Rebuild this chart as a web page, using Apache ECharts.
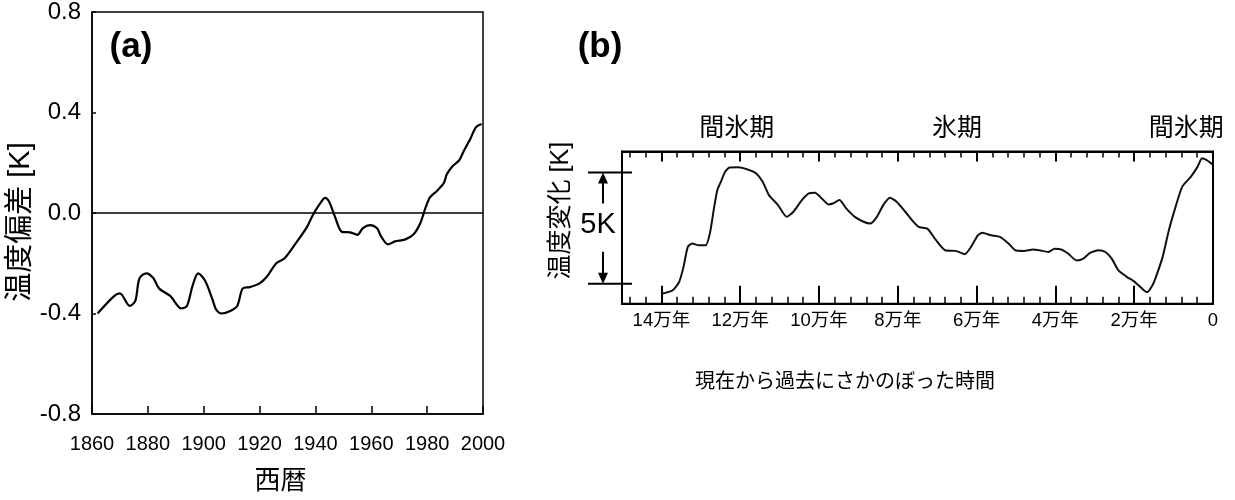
<!DOCTYPE html>
<html><head><meta charset="utf-8">
<script src="https://cdn.jsdelivr.net/npm/echarts@6/dist/echarts.min.js"></script>
<style>html,body{margin:0;padding:0;background:#fff}#c{width:1235px;height:500px}</style>
</head><body><div id="c"></div>
<script>
// Panel (a): global temperature anomaly
const yearsA = [1862,1868,1870,1873.5,1875.5,1877,1879.5,1882,1884,1888,1892,1894,1896,1898,1900.5,1903,1904.5,1906.5,1909.5,1912,1914,1916.5,1920,1922.5,1926,1929,1933,1937,1939,1941.5,1943.5,1945,1947,1949.5,1952.5,1955,1957,1959.5,1962,1963.5,1966,1968.5,1972,1975,1977.5,1979.5,1981,1983.5,1986,1987,1989,1991.5,1993,1995.5,1997.5,1999.5];
const anomA = [-0.40,-0.33,-0.32,-0.37,-0.35,-0.26,-0.24,-0.26,-0.30,-0.33,-0.38,-0.37,-0.29,-0.24,-0.27,-0.34,-0.385,-0.40,-0.39,-0.37,-0.30,-0.295,-0.28,-0.255,-0.20,-0.18,-0.12,-0.055,-0.01,0.035,0.06,0.043,-0.015,-0.075,-0.077,-0.087,-0.06,-0.048,-0.06,-0.093,-0.125,-0.113,-0.106,-0.087,-0.042,0.023,0.062,0.088,0.12,0.153,0.185,0.21,0.244,0.296,0.342,0.354];
// Panel (b): temperature change, time before present in 万年
const agoB = [14.0,13.72,13.55,13.44,13.33,13.22,13.05,12.88,12.77,12.66,12.58,12.49,12.38,12.27,12.05,11.83,11.6,11.43,11.27,11.04,10.82,10.65,10.43,10.26,10.1,9.93,9.76,9.65,9.48,9.31,9.09,8.87,8.7,8.53,8.37,8.2,8.03,7.81,7.64,7.47,7.25,7.03,6.8,6.53,6.3,6.14,5.97,5.86,5.63,5.41,5.19,5.02,4.8,4.57,4.41,4.18,4.02,3.85,3.68,3.46,3.29,3.12,2.9,2.73,2.57,2.4,2.18,2.01,1.84,1.67,1.54,1.45,1.28,1.12,0.95,0.78,0.56,0.39,0.28,0.17,0.0];
const tempB = [-0.45,-0.30,0.08,0.75,1.66,1.81,1.73,1.73,2.26,3.46,4.22,4.59,5.05,5.23,5.24,5.15,4.97,4.59,3.99,3.54,3.01,3.24,3.77,4.07,4.10,3.84,3.57,3.61,3.77,3.39,3.01,2.79,2.71,3.01,3.54,3.87,3.69,3.24,2.86,2.56,2.48,1.96,1.51,1.48,1.33,1.66,2.18,2.29,2.18,2.11,1.81,1.51,1.48,1.54,1.51,1.43,1.58,1.54,1.36,1.05,1.13,1.39,1.51,1.43,1.13,0.60,0.30,0.12,-0.15,-0.38,-0.08,0.30,1.20,2.41,3.46,4.37,4.82,5.27,5.65,5.57,5.35];
const periodLabels = ['間氷期','氷期','間氷期'];
const periodAt = [12.09, 6.5, 0.68];
const scaleBar = [0, 5];
const scaleLabel = '5K';
const panelLabels = ['(a)','(b)'];

const FONT = '"Liberation Sans", "Noto Sans CJK JP", sans-serif';
const chart = echarts.init(document.getElementById('c'), null, {renderer:'canvas'});

function bAxis(pos, interval, len, lineShow, labelShow, extra){
  return Object.assign({gridIndex:1, type:'value', min:0, max:15, interval:interval, inverse:true, position:pos,
     axisLine:{show:lineShow, onZero:false, lineStyle:{color:'#000', width:2}},
     axisTick:{show:true, inside:true, length:len, lineStyle:{color:'#000', width:len>8?2:1.5}},
     axisLabel:{show:labelShow}, splitLine:{show:false}}, extra || {});
}

chart.setOption({
  animation:false,
  textStyle:{fontFamily:FONT, color:'#000'},
  grid:[
    {left:92, top:11, width:391, height:411, show:true, borderColor:'#000', borderWidth:1.5},
    {left:622, top:151.5, width:591, height:152.3, show:true, borderColor:'#000', borderWidth:2}
  ],
  xAxis:[
    {gridIndex:0, type:'value', min:1860, max:2000, interval:20,
     axisLine:{show:true, onZero:false, lineStyle:{color:'#000', width:1.5}},
     axisTick:{show:true, inside:true, length:8, lineStyle:{color:'#000', width:1.5}},
     axisLabel:{fontSize:20, color:'#000', margin:20, fontFamily:FONT, formatter:v => String(v)},
     splitLine:{show:false},
     name:'西暦', nameLocation:'middle', nameGap:55,
     nameTextStyle:{fontSize:26, color:'#000', fontFamily:FONT, padding:[0,14,0,0]}},
    bAxis('bottom', 2, 18, true, true, {
     axisLabel:{show:true, fontSize:18.5, color:'#000', margin:8, fontFamily:FONT,
       formatter:v => v > 14.5 ? '' : (v === 0 ? '0' : v + '万年')},
     name:'現在から過去にさかのぼった時間', nameLocation:'middle', nameGap:69,
     nameTextStyle:{fontSize:20, color:'#000', fontFamily:FONT, padding:[0,145,0,0]}}),
    bAxis('bottom', 0.4, 7, false, false),
    bAxis('top', 2, 10, true, false),
    bAxis('top', 0.4, 6, false, false)
  ],
  yAxis:[
    {gridIndex:0, type:'value', min:-0.8, max:0.8, interval:0.4,
     axisLine:{show:true, onZero:false, lineStyle:{color:'#000', width:1.5}},
     axisTick:{show:true, inside:true, length:4, lineStyle:{color:'#000', width:1.5}},
     axisLabel:{fontSize:24, color:'#000', margin:11, fontFamily:FONT, formatter:v => v.toFixed(1)},
     splitLine:{show:false},
     name:'温度偏差 [K]', nameLocation:'middle', nameGap:52,
     nameTextStyle:{fontSize:29, color:'#000', fontFamily:FONT, padding:[0,18,0,0]}},
    {gridIndex:1, type:'value', min:-0.9, max:5.95,
     axisLine:{show:true, onZero:false, lineStyle:{color:'#000', width:2}},
     axisTick:{show:false}, axisLabel:{show:false}, splitLine:{show:false},
     name:'温度変化 [K]', nameLocation:'middle', nameGap:48,
     nameTextStyle:{fontSize:25, color:'#000', fontFamily:FONT, padding:[0,0,0,34]}}
  ],
  series:[
    {type:'line', xAxisIndex:0, yAxisIndex:0, showSymbol:false, smooth:0.3,
     data: yearsA.map((y,i)=>[y, anomA[i]]),
     lineStyle:{color:'#000', width:2.2},
     markLine:{silent:true, symbol:'none', label:{show:false},
       lineStyle:{color:'#000', width:1.5, type:'solid'}, data:[{yAxis:0}]}},
    {type:'line', xAxisIndex:1, yAxisIndex:1, showSymbol:false, smooth:0.2,
     data: agoB.map((t,i)=>[t, tempB[i]]),
     lineStyle:{color:'#111', width:2}}
  ]
});

const yHi = chart.convertToPixel({yAxisIndex:1}, scaleBar[1]);
const yLo = chart.convertToPixel({yAxisIndex:1}, scaleBar[0]);
const gl = chart.convertToPixel({xAxisIndex:1}, 15);
const ax = gl - 19;
const stroke = {stroke:'#000', lineWidth:2};
const center = {align:'center', verticalAlign:'middle', textAlign:'center', textVerticalAlign:'middle', fill:'#000'};
const g = [
  {type:'text', style:Object.assign({text:panelLabels[0], x:131, y:47, font:'bold 35px "Liberation Sans"'}, center)},
  {type:'text', style:Object.assign({text:panelLabels[1], x:600, y:47, font:'bold 35px "Liberation Sans"'}, center)},
  {type:'line', shape:{x1:gl-34, y1:yHi, x2:gl+10, y2:yHi}, style:stroke},
  {type:'line', shape:{x1:gl-34, y1:yLo, x2:gl+10, y2:yLo}, style:stroke},
  {type:'line', shape:{x1:ax, y1:yHi+31, x2:ax, y2:yHi+8}, style:stroke},
  {type:'polygon', shape:{points:[[ax,yHi],[ax-5,yHi+11],[ax+5,yHi+11]]}, style:{fill:'#000'}},
  {type:'line', shape:{x1:ax, y1:yLo-32, x2:ax, y2:yLo-8}, style:stroke},
  {type:'polygon', shape:{points:[[ax,yLo],[ax-5,yLo-11],[ax+5,yLo-11]]}, style:{fill:'#000'}},
  {type:'text', style:Object.assign({text:scaleLabel, x:gl-24, y:(yHi+yLo)/2-3, font:'29px "Liberation Sans"'}, center)}
];
periodLabels.forEach((s,i)=>{
  g.push({type:'text', style:Object.assign({text:s, x:chart.convertToPixel({xAxisIndex:1}, periodAt[i]), y:129,
    font:'25px "Liberation Sans", "Noto Sans CJK JP"'}, center)});
});
chart.setOption({graphic:g});
</script></body></html>
